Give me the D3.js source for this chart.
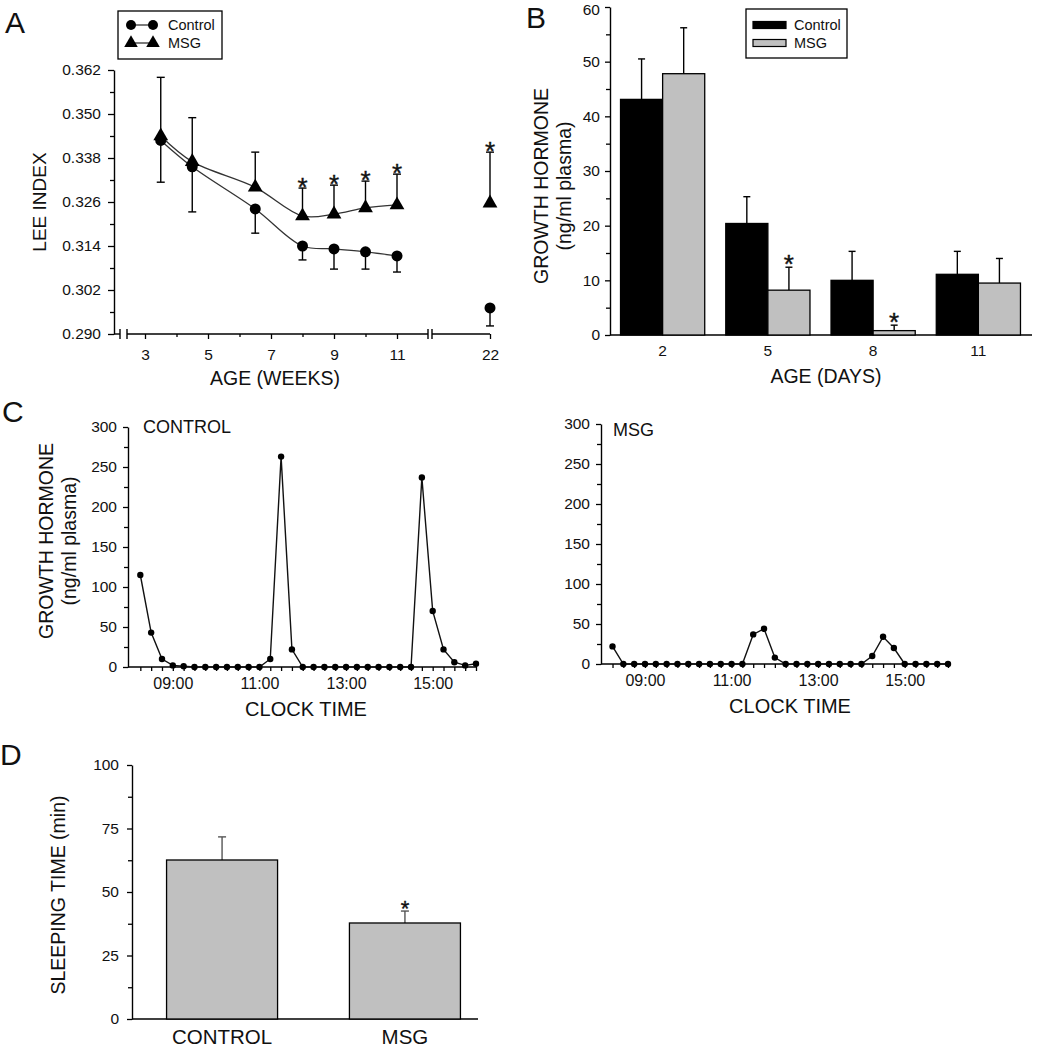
<!DOCTYPE html>
<html><head><meta charset="utf-8">
<script src="https://cdn.jsdelivr.net/npm/d3@7"></script>
<style>
body{margin:0;background:#fff;}
svg{display:block;}
</style></head><body>
<svg id="fig" width="1048" height="1050"></svg>
<script>
// ================= DATA =================
// Panel A : Lee index vs age (weeks)
const leeWeeks      = [3.5, 4.5, 6.5, 8, 9, 10, 11, 22];
const leeControl    = [0.3428, 0.3356, 0.3241, 0.3140, 0.3132, 0.3124, 0.3113, 0.2971];
const leeControlErr = [0.0114, 0.0123, 0.0066, 0.0038, 0.0055, 0.0047, 0.0044, 0.0049];
const leeMSG        = [0.3440, 0.3370, 0.3300, 0.3222, 0.3227, 0.3244, 0.3252, 0.3257];
const leeMSGErr     = [0.0160, 0.0120, 0.0096, 0.0076, 0.0079, 0.0073, 0.0084, 0.0139];
const leeSig        = [false, false, false, true, true, true, true, true];
const leeYTicks     = [0.290, 0.302, 0.314, 0.326, 0.338, 0.350, 0.362];
const weekTicks     = [3, 5, 7, 9, 11, 22];
const weekMinor     = [4, 6, 8, 10];

// Panel B : growth hormone vs age (days)
const ghDays       = ["2", "5", "8", "11"];
const ghControl    = [43.1, 20.4, 10.0, 11.1];
const ghControlErr = [7.4, 4.9, 5.3, 4.2];
const ghMSG        = [47.8, 8.2, 0.8, 9.5];
const ghMSGErr     = [8.4, 4.2, 1.0, 4.5];
const ghSig        = [false, true, true, false];
const ghYTicks     = [0, 10, 20, 30, 40, 50, 60];

// Panel C : GH pulsatility vs clock time
const clockTimes = ["08:15","08:30","08:45","09:00","09:15","09:30","09:45","10:00",
                    "10:15","10:30","10:45","11:00","11:15","11:30","11:45","12:00",
                    "12:15","12:30","12:45","13:00","13:15","13:30","13:45","14:00",
                    "14:15","14:30","14:45","15:00","15:15","15:30","15:45","16:00"];
const pulseControl = [115, 43, 10, 2, 1, 0, 0, 0,
                      0, 0, 0, 0, 10, 263, 22, 0,
                      0, 0, 0, 0, 0, 0, 0, 0,
                      0, 0, 237, 70, 22, 6, 2, 4];
const pulseMSG     = [22, 0, 0, 0, 0, 0, 0, 0,
                      0, 0, 0, 0, 0, 37, 44, 8,
                      0, 0, 0, 0, 0, 0, 0, 0,
                      10, 34, 20, 0, 0, 0, 0, 0];
const clockLabels  = ["09:00", "11:00", "13:00", "15:00"];
const pulseYTicks  = [0, 50, 100, 150, 200, 250, 300];

// Panel D : sleeping time
const sleepGroups = ["CONTROL", "MSG"];
const sleepMeans  = [62.6, 37.8];
const sleepErr    = [9.1, 4.7];
const sleepSig    = [false, true];
const sleepYTicks = [0, 25, 50, 75, 100];

// ================= HELPERS =================
const FONT = '"Liberation Sans", Arial, Helvetica, sans-serif';
const svg = d3.select("#fig").style("font-family", FONT);
const toMin = s => { const [h, m] = s.split(":").map(Number); return h * 60 + m; };
const mids = arr => arr.slice(1).map((t, i) => (t + arr[i]) / 2);

function styleAxis(g, fs) {
  g.attr("font-size", fs).attr("font-family", FONT);
  g.selectAll("path.domain").attr("stroke", "#000").attr("stroke-width", 1.4);
  g.selectAll(".tick line").attr("stroke", "#000").attr("stroke-width", 1.3);
  g.selectAll(".tick text").attr("font-size", fs).attr("fill", "#111").attr("font-family", FONT);
}
function txt(g, x, y, s, fs, anchor = "start", extra = {}) {
  const t = g.append("text").attr("x", x).attr("y", y).attr("font-size", fs)
    .attr("text-anchor", anchor).attr("fill", "#111").text(s);
  for (const k in extra) t.attr(k, extra[k]);
  return t;
}
function vtitle(g, cx, cy, s, fs) {
  g.append("text").attr("transform", `translate(${cx},${cy}) rotate(-90)`)
    .attr("text-anchor", "middle").attr("dominant-baseline", "central")
    .attr("font-size", fs).attr("fill", "#111").text(s);
}
function star(g, x, cy, fs) {
  g.append("text").attr("x", x).attr("y", cy + 0.575 * fs).attr("text-anchor", "middle")
    .attr("font-size", fs).attr("fill", "#111").attr("stroke", "#111").attr("stroke-width", 0.4).text("*");
}
function errBar(g, x, y0, y1, hw, color = "#000") {
  g.append("line").attr("x1", x).attr("x2", x).attr("y1", y0).attr("y2", y1)
    .attr("stroke", color).attr("stroke-width", 1.4);
  g.append("line").attr("x1", x - hw).attr("x2", x + hw).attr("y1", y1).attr("y2", y1)
    .attr("stroke", color).attr("stroke-width", 1.4);
}
function panelLabel(x, y, s) {
  svg.append("text").attr("x", x).attr("y", y).attr("font-size", 30).attr("fill", "#111").text(s);
}

// ================= PANEL A =================
{
  const g = svg.append("g");
  const x = d3.scaleLinear().domain([3, 11, 22]).range([145, 397, 490]);
  const y = d3.scaleLinear().domain([0.290, 0.362]).range([334, 70]);
  const axX = 114, axY = 334;

  g.append("g").attr("transform", `translate(${axX},0)`)
    .call(d3.axisLeft(y).tickValues(leeYTicks).tickFormat(d3.format(".3f")).tickSize(6).tickSizeOuter(0).tickPadding(7))
    .call(a => styleAxis(a, 15.5));
  g.append("g").attr("transform", `translate(${axX},0)`)
    .call(d3.axisLeft(y).tickValues(mids(leeYTicks)).tickFormat("").tickSize(4).tickSizeOuter(0))
    .call(a => a.select(".domain").remove()).call(a => styleAxis(a, 15));

  g.append("g").attr("transform", `translate(0,${axY})`)
    .call(d3.axisBottom(x).tickValues(weekTicks).tickSize(5).tickPadding(10))
    .call(a => a.select(".domain").remove()).call(a => styleAxis(a, 15.5));
  g.append("g").attr("transform", `translate(0,${axY})`)
    .call(d3.axisBottom(x).tickValues(weekMinor).tickFormat("").tickSize(3))
    .call(a => a.select(".domain").remove()).call(a => styleAxis(a, 15));
  // broken x-axis line
  [[axX, 120], [127, 428], [432, x(22)]].forEach(([a, b]) =>
    g.append("line").attr("x1", a).attr("x2", b).attr("y1", axY).attr("y2", axY).attr("stroke", "#000").attr("stroke-width", 1.4));
  [120, 127, 428, 432].forEach(bx =>
    g.append("line").attr("x1", bx).attr("x2", bx).attr("y1", axY - 5).attr("y2", axY + 5).attr("stroke", "#000").attr("stroke-width", 1.4));

  const idx = d3.range(leeWeeks.length);
  const cont = idx.filter(i => leeWeeks[i] <= 11);
  const line = d3.line().curve(d3.curveCatmullRom.alpha(0.5));
  g.append("path").attr("d", line(cont.map(i => [x(leeWeeks[i]), y(leeControl[i])])))
    .attr("fill", "none").attr("stroke", "#333").attr("stroke-width", 1.3);
  g.append("path").attr("d", line(cont.map(i => [x(leeWeeks[i]), y(leeMSG[i])])))
    .attr("fill", "none").attr("stroke", "#333").attr("stroke-width", 1.3);

  idx.forEach(i => {
    const px = x(leeWeeks[i]);
    errBar(g, px, y(leeMSG[i]), y(leeMSG[i] + leeMSGErr[i]), 4);
    errBar(g, px, y(leeControl[i]), y(leeControl[i] - leeControlErr[i]), 4);
  });
  const tri = d3.symbol(d3.symbolTriangle, 95);
  idx.forEach(i => {
    const px = x(leeWeeks[i]);
    g.append("circle").attr("cx", px).attr("cy", y(leeControl[i])).attr("r", 5.5).attr("fill", "#000");
    g.append("path").attr("d", tri()).attr("transform", `translate(${px},${y(leeMSG[i])})`).attr("fill", "#000");
    if (leeSig[i]) star(g, px, y(leeMSG[i] + leeMSGErr[i]) - 7, 26);
  });

  // legend
  g.append("rect").attr("x", 118).attr("y", 11).attr("width", 104).attr("height", 48)
    .attr("fill", "#fff").attr("stroke", "#000").attr("stroke-width", 1.3);
  [["Control", 25, "c"], ["MSG", 43, "t"]].forEach(([lab, ly, m]) => {
    g.append("line").attr("x1", 131).attr("x2", 153).attr("y1", ly).attr("y2", ly).attr("stroke", "#333").attr("stroke-width", 1.3);
    [131, 153].forEach(mx => {
      if (m === "c") g.append("circle").attr("cx", mx).attr("cy", ly).attr("r", 5).attr("fill", "#000");
      else g.append("path").attr("d", d3.symbol(d3.symbolTriangle, 80)()).attr("transform", `translate(${mx},${ly})`).attr("fill", "#000");
    });
    txt(g, 168, ly, lab, 14.5, "start", { "dominant-baseline": "central" });
  });

  txt(g, 275, 385, "AGE (WEEKS)", 19.5, "middle");
  vtitle(g, 39, 202, "LEE INDEX", 19);
  panelLabel(5, 33, "A");
}

// ================= PANEL B =================
{
  const g = svg.append("g");
  const x0 = d3.scaleBand().domain(ghDays).range([610, 1031]).paddingInner(0.2).paddingOuter(0.1);
  const x1 = d3.scaleBand().domain(["Control", "MSG"]).range([0, x0.bandwidth()]);
  const y = d3.scaleLinear().domain([0, 60]).range([335, 7]);
  const axX = 610, axY = 335;

  g.append("g").attr("transform", `translate(${axX},0)`)
    .call(d3.axisLeft(y).tickValues(ghYTicks).tickSize(5).tickSizeOuter(0).tickPadding(5))
    .call(a => styleAxis(a, 15.5))
    .call(a => a.selectAll(".tick text").filter(d => d === 60).attr("dy", "0.5em"));
  g.append("g").attr("transform", `translate(${axX},0)`)
    .call(d3.axisLeft(y).tickValues(mids(ghYTicks)).tickFormat("").tickSize(4).tickSizeOuter(0))
    .call(a => a.select(".domain").remove()).call(a => styleAxis(a, 15));
  g.append("line").attr("x1", axX).attr("x2", 1032).attr("y1", axY).attr("y2", axY).attr("stroke", "#000").attr("stroke-width", 1.4);
  ghDays.forEach(d => txt(g, x0(d) + x0.bandwidth() / 2, 356, d, 15.5, "middle"));

  const series = [
    { key: "Control", vals: ghControl, errs: ghControlErr, fill: "#000" },
    { key: "MSG", vals: ghMSG, errs: ghMSGErr, fill: "#c0c0c0" }
  ];
  series.forEach(s => {
    ghDays.forEach((d, i) => {
      const bx = x0(d) + x1(s.key), bw = x1.bandwidth();
      errBar(g, bx + bw / 2, y(s.vals[i]), y(s.vals[i] + s.errs[i]), 3.5);
      g.append("rect").attr("x", bx).attr("y", y(s.vals[i])).attr("width", bw).attr("height", axY - y(s.vals[i]))
        .attr("fill", s.fill).attr("stroke", "#000").attr("stroke-width", 1.3);
      if (s.key === "MSG" && ghSig[i]) star(g, bx + bw / 2, y(s.vals[i] + s.errs[i]) - 9.5, 26);
    });
  });

  // legend
  g.append("rect").attr("x", 746).attr("y", 9).attr("width", 101).attr("height", 49)
    .attr("fill", "#fff").attr("stroke", "#000").attr("stroke-width", 1.3);
  [["Control", 25, "#000"], ["MSG", 43, "#c0c0c0"]].forEach(([lab, ly, f]) => {
    g.append("rect").attr("x", 753).attr("y", ly - 3.5).attr("width", 33).attr("height", 7)
      .attr("fill", f).attr("stroke", "#000").attr("stroke-width", 1.2);
    txt(g, 794, ly, lab, 14.5, "start", { "dominant-baseline": "central" });
  });

  txt(g, 826, 383, "AGE (DAYS)", 19.5, "middle");
  vtitle(g, 541, 186, "GROWTH HORMONE", 19.5);
  vtitle(g, 564, 186, "(ng/ml plasma)", 19.5);
  panelLabel(526, 28, "B");
}

// ================= PANEL C =================
function pulsePanel(vals, axX, r0, r1, y0, label, labelX, labelY, titleX, titleY) {
  const g = svg.append("g");
  const x = d3.scaleLinear().domain([toMin("08:00"), toMin("16:00")]).range([r0, r1]);
  const y = d3.scaleLinear().domain([0, 300]).range([y0, y0 - 240]);
  g.append("g").attr("transform", `translate(${axX},0)`)
    .call(d3.axisLeft(y).tickValues(pulseYTicks).tickSize(5).tickSizeOuter(0).tickPadding(6))
    .call(a => styleAxis(a, 15.5));
  g.append("g").attr("transform", `translate(${axX},0)`)
    .call(d3.axisLeft(y).tickValues(mids(pulseYTicks)).tickFormat("").tickSize(4).tickSizeOuter(0))
    .call(a => a.select(".domain").remove()).call(a => styleAxis(a, 15));
  const labMin = clockLabels.map(toMin);
  g.append("g").attr("transform", `translate(0,${y0})`)
    .call(d3.axisBottom(x).tickValues(clockTimes.map(toMin)).tickSize(4).tickSizeOuter(0).tickPadding(7)
      .tickFormat(d => { const k = labMin.indexOf(d); return k >= 0 ? clockLabels[k] : ""; }))
    .call(a => a.select(".domain").remove()).call(a => styleAxis(a, 16));
  g.append("line").attr("x1", axX).attr("x2", r1 + 1).attr("y1", y0).attr("y2", y0).attr("stroke", "#000").attr("stroke-width", 1.4);

  const pts = clockTimes.map((t, i) => [x(toMin(t)), y(vals[i])]);
  g.append("path").attr("d", d3.line()(pts)).attr("fill", "none").attr("stroke", "#111").attr("stroke-width", 1.4);
  pts.forEach(p => g.append("circle").attr("cx", p[0]).attr("cy", p[1]).attr("r", 3.2).attr("fill", "#000"));

  txt(g, labelX, labelY, label, 18);
  txt(g, titleX, titleY, "CLOCK TIME", 20, "middle");
  return g;
}
{
  const g1 = pulsePanel(pulseControl, 128, 129.5, 476, 667, "CONTROL", 143, 433, 306, 716);
  vtitle(g1, 46, 541, "GROWTH HORMONE", 19.5);
  vtitle(g1, 69, 541, "(ng/ml plasma)", 19.5);
  pulsePanel(pulseMSG, 601, 601.7, 948, 664, "MSG", 613, 436, 790, 713);
  panelLabel(2, 422, "C");
}

// ================= PANEL D =================
{
  const g = svg.append("g");
  const x = d3.scaleBand().domain(sleepGroups).range([132, 495]).paddingInner(0.393).paddingOuter(0.189);
  const y = d3.scaleLinear().domain([0, 100]).range([1019, 765]);
  const axX = 132, axY = 1019;
  g.append("g").attr("transform", `translate(${axX},0)`)
    .call(d3.axisLeft(y).tickValues(sleepYTicks).tickSize(5).tickSizeOuter(0).tickPadding(8))
    .call(a => styleAxis(a, 15.5));
  g.append("g").attr("transform", `translate(${axX},0)`)
    .call(d3.axisLeft(y).tickValues(mids(sleepYTicks)).tickFormat("").tickSize(4).tickSizeOuter(0))
    .call(a => a.select(".domain").remove()).call(a => styleAxis(a, 15));
  g.append("line").attr("x1", axX).attr("x2", 478).attr("y1", axY).attr("y2", axY).attr("stroke", "#000").attr("stroke-width", 1.4);

  sleepGroups.forEach((k, i) => {
    const cx = x(k) + x.bandwidth() / 2;
    errBar(g, cx, y(sleepMeans[i]), y(sleepMeans[i] + sleepErr[i]), 4, "#555");
    g.append("rect").attr("x", x(k)).attr("y", y(sleepMeans[i])).attr("width", x.bandwidth())
      .attr("height", axY - y(sleepMeans[i])).attr("fill", "#c0c0c0").attr("stroke", "#000").attr("stroke-width", 1.3);
    if (sleepSig[i]) star(g, cx, y(sleepMeans[i] + sleepErr[i]) - 8, 22);
    txt(g, cx, 1044, k, 20.5, "middle");
  });
  vtitle(g, 58, 895, "SLEEPING TIME (min)", 19.5);
  panelLabel(0, 765, "D");
}
</script>
</body></html>
